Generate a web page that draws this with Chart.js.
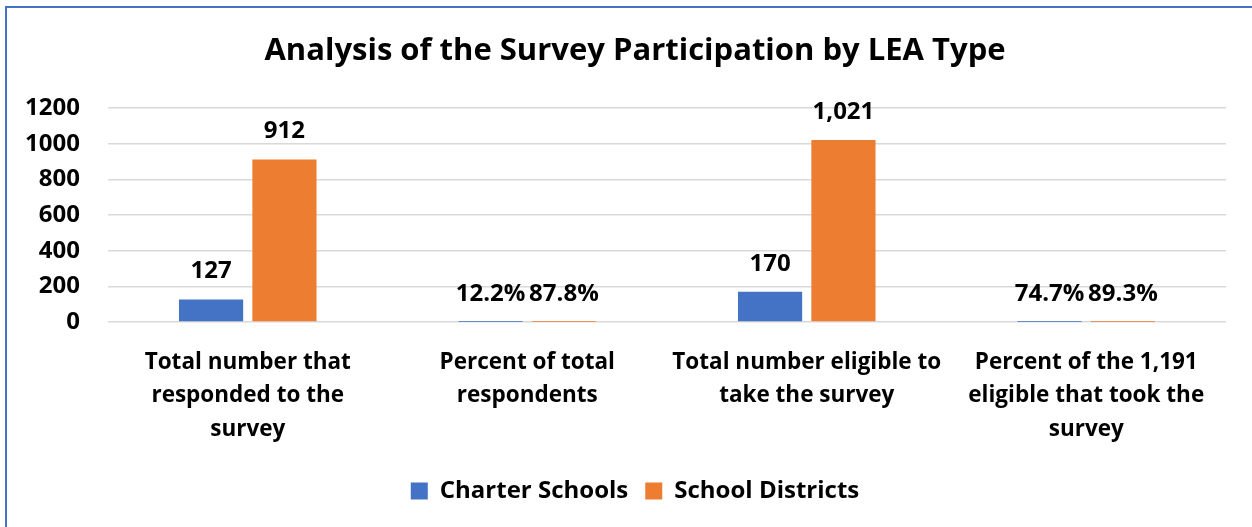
<!DOCTYPE html>
<html>
<head>
<meta charset="utf-8">
<script src="https://cdn.jsdelivr.net/npm/chart.js@4"></script>
<style>
  html, body { margin: 0; padding: 0; background: #ffffff; }
  #wrap { position: relative; width: 1252px; height: 527px; overflow: hidden; }
  canvas { display: block; }
</style>
</head>
<body>
<div id="wrap"><canvas id="c" width="1252" height="527"></canvas></div>
<script>
const categories = [
  ["Total number that", "responded to the", "survey"],
  ["Percent of total", "respondents"],
  ["Total number eligible to", "take the survey"],
  ["Percent of the 1,191", "eligible that took the", "survey"]
];
const labelKinds = ["count", "percent", "count", "percent"];
const seriesNames = ["Charter Schools", "School Districts"];
const charterSchools = [127, 0.122, 170, 0.747];
const schoolDistricts = [912, 0.878, 1021, 0.893];
const yTicks = [0, 200, 400, 600, 800, 1000, 1200];
const colors = ["#4472C4", "#ED7D31"];

const FONT = "'Open Sans', Lato, sans-serif";

function fmt(v, i) {
  if (labelKinds[i] === "percent") return (v * 100).toFixed(1) + "%";
  return v.toLocaleString("en-US");
}

const valueLabels = {
  id: "valueLabels",
  afterDatasetsDraw(chart) {
    const ctx = chart.ctx;
    ctx.save();
    ctx.font = "bold 24px " + FONT;
    ctx.fillStyle = "#000";
    ctx.textAlign = "center";
    ctx.textBaseline = "middle";
    chart.data.datasets.forEach((ds, di) => {
      chart.getDatasetMeta(di).data.forEach((bar, i) => {
        ctx.fillText(fmt(ds.data[i], i), bar.x, bar.y - 28);
      });
    });
    ctx.restore();
  }
};

const frame = {
  id: "frame",
  afterDraw(chart) {
    const ctx = chart.ctx;
    ctx.save();
    ctx.strokeStyle = "#4472C4";
    ctx.lineWidth = 2;
    ctx.strokeRect(6, 7, 1300, 600);
    ctx.restore();
  }
};

// widen the y-axis box to the left edge so its tick labels are not clipped
const widenY = {
  id: "widenY",
  afterLayout(chart) {
    const y = chart.scales.y;
    y.left = 0;
    y.width = y.right - y.left;
  }
};

new Chart(document.getElementById("c"), {
  type: "bar",
  data: {
    labels: categories,
    datasets: [
      { label: seriesNames[0], data: charterSchools, backgroundColor: colors[0], categoryPercentage: 0.525, barPercentage: 0.875 },
      { label: seriesNames[1], data: schoolDistricts, backgroundColor: colors[1], categoryPercentage: 0.525, barPercentage: 0.875 }
    ]
  },
  options: {
    responsive: false,
    animation: false,
    layout: { padding: { left: 44, right: 26, top: 0, bottom: 14 } },
    plugins: {
      title: {
        display: true,
        text: "Analysis of the Survey Participation by LEA Type",
        color: "#000",
        font: { family: FONT, size: 31, weight: "bold", lineHeight: 1.2 },
        padding: { top: 33, bottom: 38 }
      },
      legend: {
        position: "bottom",
        labels: {
          color: "#000",
          font: { family: FONT, size: 24, weight: "bold" },
          boxWidth: 17,
          boxHeight: 17,
          padding: 17
        }
      },
      tooltip: { enabled: false }
    },
    scales: {
      x: {
        grid: { display: false },
        border: { display: false },
        ticks: {
          color: "#000",
          font: { family: FONT, size: 22.5, weight: "bold", lineHeight: 1.48 },
          maxRotation: 0,
          autoSkip: false,
          padding: 16
        }
      },
      y: {
        min: 0,
        max: 1200,
        afterBuildTicks(scale) { scale.ticks = yTicks.map(v => ({ value: v })); },
        afterFit(scale) { scale.width = 64; },
        grid: { color: "#d9d9d9", lineWidth: 1.5, drawTicks: false },
        border: { display: false },
        ticks: {
          color: "#000",
          font: { family: FONT, size: 24, weight: "bold" },
          padding: 28,
          callback: (v) => String(v)
        }
      }
    }
  },
  plugins: [valueLabels, frame, widenY]
});
</script>
</body>
</html>
